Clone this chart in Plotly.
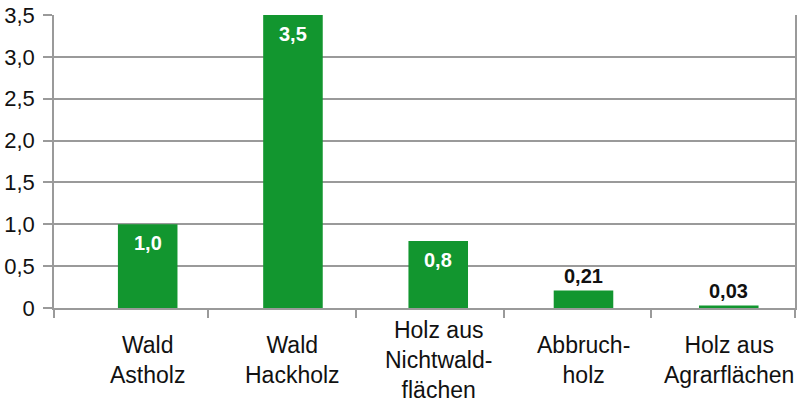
import plotly.graph_objects as go

categories = ["Wald<br>Astholz", "Wald<br>Hackholz", "Holz aus<br>Nichtwald-<br>flächen",
              "Abbruch-<br>holz", "Holz aus<br>Agrarflächen"]
values = [1.0, 3.5, 0.8, 0.21, 0.03]
value_labels = ["1,0", "3,5", "0,8", "0,21", "0,03"]
y_ticks = [0, 0.5, 1.0, 1.5, 2.0, 2.5, 3.0, 3.5]
y_tick_labels = ["0", "0,5", "1,0", "1,5", "2,0", "2,5", "3,0", "3,5"]
boundaries = [-0.645, 0.415, 1.434, 2.453, 3.465, 4.456]

GREEN = "#12962f"
GRID = "#9a9a9a"
FONT = "Liberation Sans"

x = list(range(len(values)))

fig = go.Figure()
fig.add_trace(go.Bar(x=x, y=values, width=0.41, marker=dict(color=GREEN, line=dict(width=0)),
                     hoverinfo="skip"))

annotations = []
for xi, v, lab in zip(x, values, value_labels):
    inside = v > 0.5
    annotations.append(dict(
        x=xi, y=v, xref="x", yref="y", text="<b>%s</b>" % lab, showarrow=False,
        yanchor="top" if inside else "bottom", yshift=-6 if inside else 1,
        font=dict(family=FONT, size=20, color="white" if inside else "#111111")))
for xi, cat in zip(x, categories):
    annotations.append(dict(
        x=xi, y=0, xref="x", yref="paper", text=cat, showarrow=False,
        yanchor="middle", yshift=-52, font=dict(family=FONT, size=23, color="#111111")))

fig.update_layout(
    width=800, height=402,
    margin=dict(l=54, r=5, t=15, b=94, autoexpand=False),
    paper_bgcolor="white", plot_bgcolor="white",
    showlegend=False,
    annotations=annotations,
    xaxis=dict(range=[boundaries[0], boundaries[-1]], showgrid=False, zeroline=False,
               tickvals=boundaries, ticktext=[""] * len(boundaries),
               ticks="outside", ticklen=8, tickwidth=1.5, tickcolor=GRID,
               showline=True, linecolor=GRID, linewidth=1.5, mirror=False,
               automargin=False, fixedrange=True),
    yaxis=dict(range=[0, 3.5], tickvals=y_ticks, ticktext=y_tick_labels,
               ticks="outside", ticklen=9, tickwidth=1.5, tickcolor=GRID,
               showgrid=True, gridcolor=GRID, gridwidth=1.5, zeroline=False,
               showline=True, linecolor=GRID, linewidth=1.5, mirror=True,
               tickfont=dict(family=FONT, size=22, color="#111111"),
               ticklabelstandoff=4, automargin=False, fixedrange=True),
)

fig.write_html("out.html", config={"displayModeBar": False},
               post_script="document.body.style.margin='0px';document.body.style.padding='0px';")
